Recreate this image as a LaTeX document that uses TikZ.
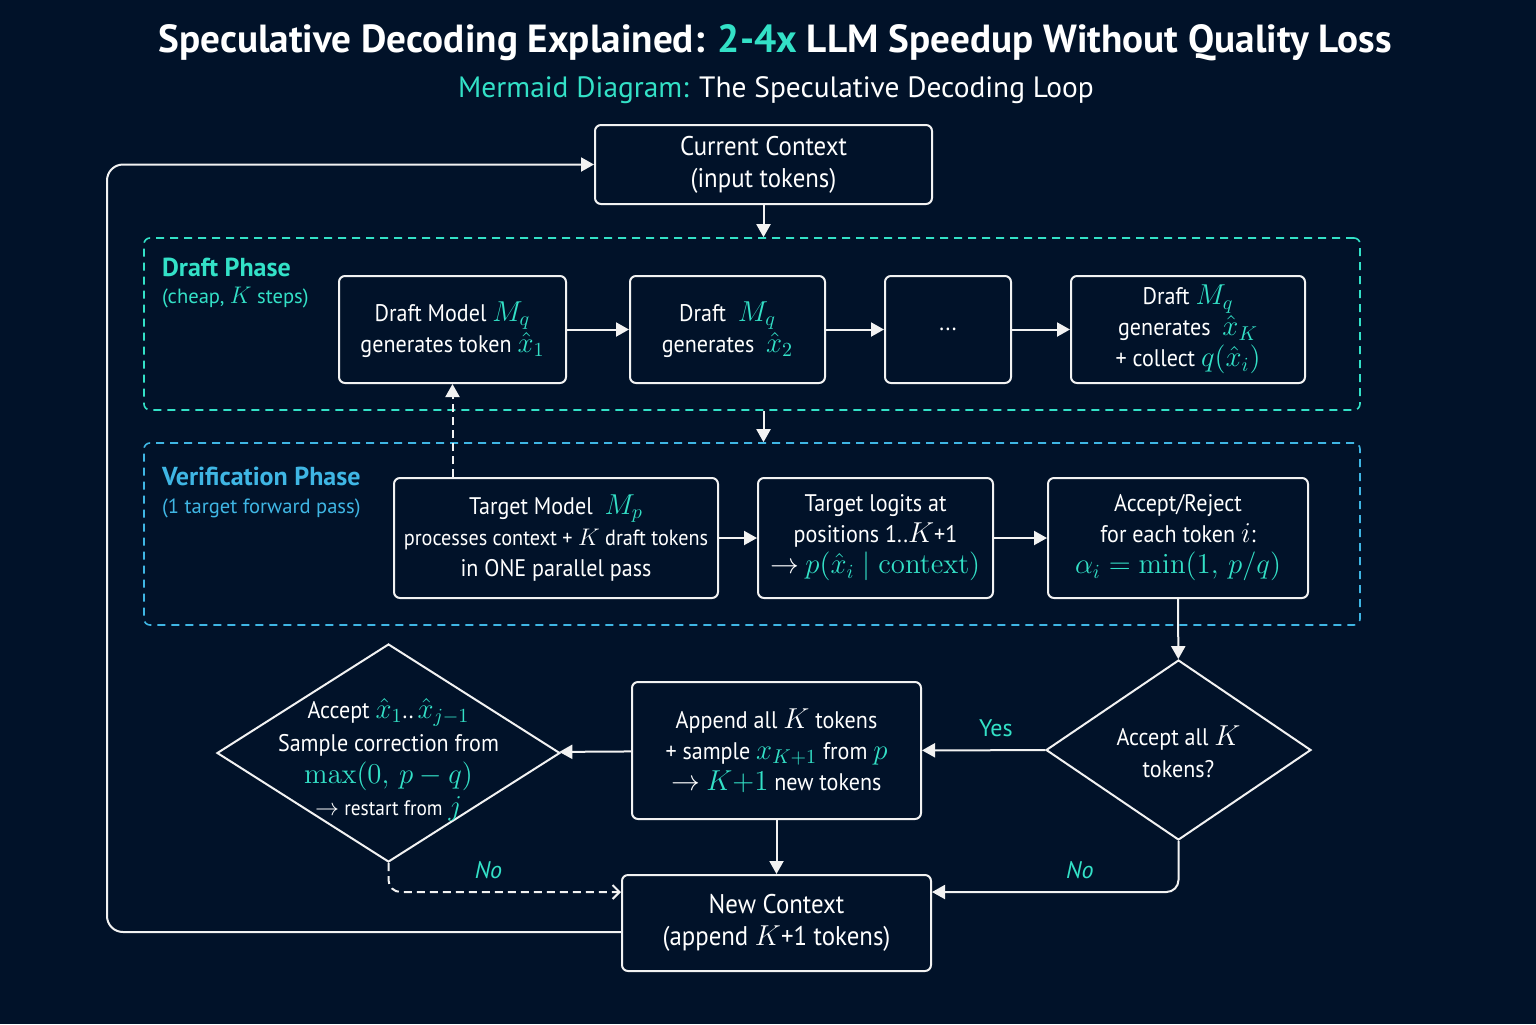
\documentclass[tikz,border=0pt]{standalone}
\usepackage[no-math]{fontspec}
\setmainfont{PT Sans}[FakeStretch=0.92]
\newfontfamily\headfont{PT Sans}
\DeclareMathSizes{13.5}{15}{11}{8.5}
\DeclareMathSizes{12}{14.5}{10}{8}
\DeclareMathSizes{11}{13}{9.5}{7.5}
\DeclareMathSizes{10.3}{12}{9}{7}
\DeclareMathSizes{10.5}{12.5}{9}{7}
\usepackage{xcolor}
\definecolor{cBg}{HTML}{011229}
\definecolor{cTeal}{HTML}{33E1C7}
\definecolor{cBlue}{HTML}{3FB6E4}
\definecolor{cLine}{HTML}{F2F2F2}
\usetikzlibrary{positioning,arrows.meta,shapes.geometric,calc}
\newcommand{\tealm}[1]{\textcolor{cTeal}{$#1$}}
\tikzset{
  node-box/.style={draw=cLine,line width=1pt,rounded corners=3pt,fill=cBg,
    text=white,align=center,inner xsep=3pt,font=\fontsize{12}{15.5}\selectfont},
  node-box-big/.style={node-box,font=\fontsize{13.5}{16}\selectfont},
  node-dec/.style={draw=cLine,line width=1pt,diamond,fill=cBg,inner sep=0pt},
  node-text/.style={text=white,align=center,font=\fontsize{12}{16.2}\selectfont},
  node-cluster/.style={dash pattern=on 4pt off 3pt,line width=0.8pt,
    rounded corners=3pt,minimum width=608pt,inner sep=0pt},
  node-cluster-draft/.style={node-cluster,draw=cTeal,minimum height=86pt},
  node-cluster-verif/.style={node-cluster,draw=cBlue,minimum height=91pt},
  arrow/.style={-{Triangle[length=6.5pt,width=7pt]},line width=1pt,draw=cLine},
  arrow-dash/.style={arrow,dash pattern=on 4pt off 2.5pt},
  arrow-open/.style={-{Straight Barb[length=3.5pt,width=7pt]},line width=1pt,
    draw=cLine,dash pattern=on 4pt off 2.5pt},
  lbl-phase/.style={anchor=west,font=\headfont\bfseries\fontsize{13}{15}\selectfont},
  lbl-phase-sub/.style={anchor=west,font=\headfont\fontsize{10.3}{12}\selectfont},
  lbl-edge/.style={text=cTeal,font=\headfont\fontsize{12}{14}\selectfont},
}

\begin{document}
\begin{tikzpicture}[x=0.5pt,y=-0.5pt]
  \fill[cBg] (0,0) rectangle (1536,1024);
  \useasboundingbox (0,0) rectangle (1536,1024);
  % titles
  \node[text=white,font=\headfont\bfseries\fontsize{19.6}{22}\selectfont] (title) at (775,43)
    {Speculative Decoding Explained: \textcolor{cTeal}{2-4x} LLM Speedup Without Quality Loss};
  \node[text=white,font=\headfont\fontsize{14.7}{17}\selectfont] (subtitle) at (776,90)
    {\textcolor{cTeal}{Mermaid Diagram:} The Speculative Decoding Loop};
  % phase frames
  \node[node-cluster-draft] (draft) at (752,324) {};
  \node[node-cluster-verif] (verif) at (752,534) {};
  \node[lbl-phase,text=cTeal] (draft-lbl) at (155,267) {Draft Phase};
  \node[lbl-phase-sub,text=cTeal] (draft-sub) at (155,298) {(cheap, $K$ steps)};
  \node[lbl-phase,text=cBlue] (verif-lbl) at (155,476) {Verification Phase};
  \node[lbl-phase-sub,text=cBlue] (verif-sub) at (155,508) {(1 target forward pass)};
  % boxes
  \node[node-box-big,minimum width=168.5pt,minimum height=39.5pt] (cur) at (763.5,164.5)
    {Current Context\\(input tokens)};
  \node[node-box,minimum width=113.5pt,minimum height=53.5pt] (d1) at (452.5,329.5)
    {Draft Model \tealm{M_q}\\generates token \tealm{\hat{x}_1}};
  \node[node-box,minimum width=97.5pt,minimum height=53.5pt] (d2) at (727.5,329.5)
    {Draft \ \tealm{M_q}\\generates \ \tealm{\hat{x}_2}};
  \node[node-box,minimum width=63pt,minimum height=53.5pt] (dots) at (948,329.5) {...};
  \node[node-box,minimum width=117pt,minimum height=53.5pt] (dK) at (1188,329.5)
    {Draft \tealm{M_q}\\generates \ \tealm{\hat{x}_K}\\+ collect \tealm{q(\hat{x}_i)}};
  \node[node-box,minimum width=162pt,minimum height=60pt] (t1) at (556,538)
    {Target Model \ \tealm{M_p}\\{\fontsize{11}{15.5}\selectfont processes context + $K$ draft tokens}\\in ONE parallel pass};
  \node[node-box,minimum width=117.5pt,minimum height=60pt] (t2) at (875.5,538)
    {Target logits at\\positions 1..$K$+1\\$\to$ \tealm{p(\hat{x}_i \mid \mathrm{context})}};
  \node[node-box,minimum width=130pt,minimum height=60pt] (t3) at (1178,538)
    {Accept/Reject\\for each token $i$:\\\tealm{\alpha_i = \min(1,\, p/q)}};
  \node[node-dec,minimum width=132.5pt,minimum height=90pt] (dec) at (1178.5,750) {};
  \node[node-text] (dec-txt) at (1178.5,752) {Accept all $K$\\tokens?};
  \node[node-box,minimum width=144.5pt,minimum height=68.5pt] (app) at (776.5,750.5)
    {Append all $K$ tokens\\+ sample \tealm{x_{K+1}} from \tealm{p}\\$\to$ \tealm{K{+}1} new tokens};
  \node[node-dec,minimum width=171.5pt,minimum height=109pt] (rej) at (388.5,753) {};
  \node[node-text] (rej-txt) at (388.5,760)
    {Accept \tealm{\hat{x}_1}..\,\tealm{\hat{x}_{j-1}}\\Sample correction from\\
     \tealm{\max(0,\, p-q)}\\{\fontsize{10.5}{12}\selectfont$\to$ restart from} \tealm{j}};
  \node[node-box-big,minimum width=154.5pt,minimum height=48pt] (new) at (776.5,923)
    {New Context\\(append $K$+1 tokens)};
  \coordinate (loop-nw) at (107,164.5);
  % connectors
  \draw[arrow] (cur) -- (cur |- draft.north);
  \draw[arrow] (d1) -- (d2);
  \draw[arrow] (d2) -- (dots);
  \draw[arrow] (dots) -- (dK);
  \draw[arrow] (draft.south -| cur) -- (verif.north -| cur);
  \draw[arrow-dash] (t1.north -| d1) -- (d1.south);
  \draw[arrow] (t1) -- (t2);
  \draw[arrow] (t2) -- (t3);
  \draw[arrow] (t3) -- (dec);
  \draw[arrow] (dec) -- node[lbl-edge,pos=0.4,above=3pt] {Yes} (app);
  \draw[arrow] (app) -- (rej);
  \draw[arrow] (app) -- (new);
  \draw[arrow,rounded corners=6pt] (dec.south) |- node[lbl-edge,pos=0.7,above=3pt] {\itshape No}
    ($(new.east)+(0,-31)$);
  \draw[arrow-open,rounded corners=6pt] (rej.south) |- node[lbl-edge,pos=0.715,above=3pt] {\itshape No}
    ($(new.west)+(0,-31)$);
  \draw[arrow,rounded corners=8pt] ($(new.west)+(0,9)$) -| (loop-nw) -- (cur.west);
\end{tikzpicture}
\end{document}
